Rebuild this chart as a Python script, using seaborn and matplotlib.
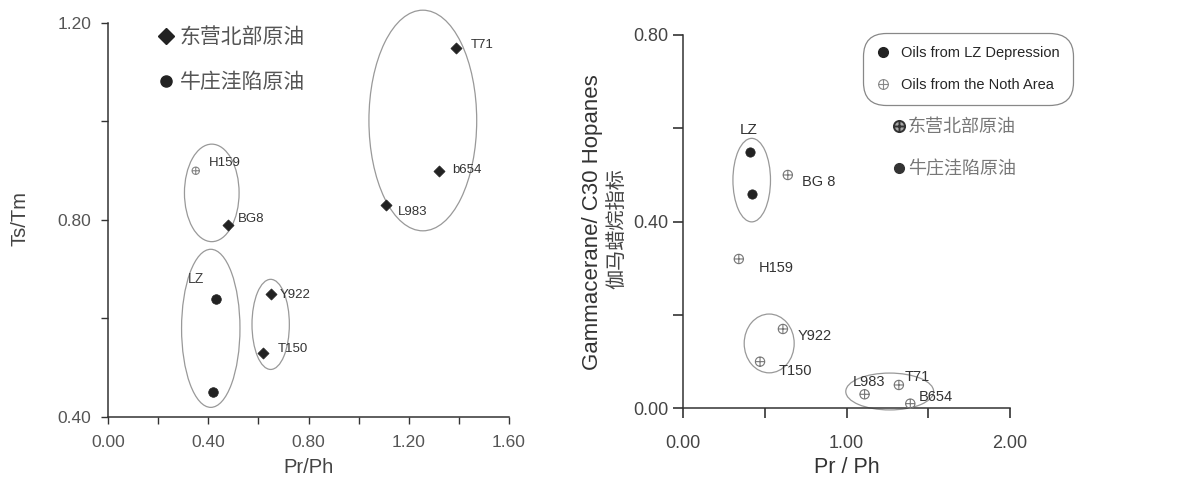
import numpy as np
import pandas as pd
import seaborn as sns
import matplotlib.pyplot as plt
from matplotlib.path import Path
from matplotlib.patches import Ellipse
from matplotlib.lines import Line2D
from matplotlib.ticker import MultipleLocator, FormatStrFormatter

# left panel: Pr/Ph vs Ts/Tm
left_wells = ['BG8', 'Y922', 'T150', 'T71', 'b654', 'L983']
left_prph = [0.48, 0.65, 0.62, 1.39, 1.32, 1.11]
left_tstm = [0.79, 0.65, 0.53, 1.15, 0.90, 0.83]
left_lz_prph = [0.43, 0.42]
left_lz_tstm = [0.64, 0.45]
left_h159_prph = [0.35]
left_h159_tstm = [0.90]

# right panel: Pr/Ph vs gammacerane index
right_lz_prph = [0.41, 0.42]
right_lz_gam = [0.55, 0.46]
right_wells = ['BG 8', 'H159', 'Y922', 'T150', 'L983', 'T71', 'B654']
right_prph = [0.64, 0.34, 0.61, 0.47, 1.11, 1.32, 1.39]
right_gam = [0.50, 0.32, 0.17, 0.10, 0.03, 0.05, 0.01]

legend_cn = ['东营北部原油', '牛庄洼陷原油']
legend_en = ['Oils from LZ Depression', 'Oils from the Noth Area']

# label offsets in pixels (text left edge / vertical centre vs point)
left_offsets = {'H159': (13, 8), 'BG8': (10, 6), 'Y922': (9, -1), 'T150': (14, 4),
                'T71': (14, 3), 'b654': (13, 1), 'L983': (12, -7)}
right_offsets = {'BG 8': (14, -7), 'H159': (20, -9), 'Y922': (15, -7), 'T150': (19, -9),
                 'L983': (-12, 12), 'T71': (6, 8), 'B654': (8, 7)}

# grouping ellipses (cx, cy, width, height) in data units
left_ellipses = [(1.256, 1.002, 0.43, 0.448), (0.414, 0.855, 0.218, 0.198),
                 (0.410, 0.580, 0.233, 0.321), (0.649, 0.588, 0.149, 0.183)]
right_ellipses = [(0.419, 0.489, 0.23, 0.179), (0.526, 0.139, 0.306, 0.126),
                  (1.264, 0.036, 0.538, 0.079)]

sns.set_style('ticks')
plt.rcParams['font.family'] = ['Liberation Sans', 'Noto Sans CJK SC']
CJK = ['Noto Sans CJK SC', 'DejaVu Sans']

# circle with a cross, like the original "⊕" symbol
oplus = Path.make_compound_path(
    Path.unit_circle(),
    Path([(-1, 0), (1, 0), (0, -1), (0, 1)],
         [Path.MOVETO, Path.LINETO, Path.MOVETO, Path.LINETO]))

fig = plt.figure(figsize=(12, 4.82), dpi=100)
ax1 = fig.add_axes([0.09, 0.1349, 0.3342, 0.8174])
ax2 = fig.add_axes([0.5694, 0.1529, 0.2722, 0.7745])

dark = '#222222'

# ---------- left ----------
df_l = pd.DataFrame({'x': left_prph, 'y': left_tstm, 'name': left_wells})
sns.scatterplot(data=df_l, x='x', y='y', marker='D', s=32, color=dark,
                edgecolor=dark, linewidth=0.5, ax=ax1, clip_on=False, zorder=3)
sns.scatterplot(x=left_lz_prph, y=left_lz_tstm, marker='o', s=48, color=dark,
                edgecolor=dark, linewidth=0.5, ax=ax1, zorder=3)
sns.scatterplot(x=left_h159_prph, y=left_h159_tstm, marker=oplus, s=28,
                facecolor='none', edgecolor='#888888', linewidth=0.8, ax=ax1, zorder=3)

for n, x, y in zip(left_wells + ['H159'], left_prph + left_h159_prph, left_tstm + left_h159_tstm):
    dx, dy = left_offsets[n]
    ax1.annotate(n, (x, y), xytext=(dx, dy), textcoords='offset pixels',
                 ha='left', va='center', fontsize=9.5, color='#333333')
ax1.text(0.32, 0.68, 'LZ', fontsize=10, color='#444444', ha='left', va='center')

for cx, cy, w, h in left_ellipses:
    ax1.add_patch(Ellipse((cx, cy), w, h, fill=False, edgecolor='#999999', lw=0.9, clip_on=False))

ax1.set_xlim(0, 1.6)
ax1.set_ylim(0.4, 1.2)
ax1.xaxis.set_major_locator(MultipleLocator(0.4))
ax1.xaxis.set_minor_locator(MultipleLocator(0.2))
ax1.yaxis.set_major_locator(MultipleLocator(0.4))
ax1.yaxis.set_minor_locator(MultipleLocator(0.2))
ax1.xaxis.set_major_formatter(FormatStrFormatter('%.2f'))
ax1.yaxis.set_major_formatter(FormatStrFormatter('%.2f'))
ax1.tick_params(which='both', direction='out', length=5, width=1, color='#333333')
ax1.tick_params(axis='x', labelsize=12.5, labelcolor='#555555', pad=8)
ax1.tick_params(axis='y', labelsize=12.5, labelcolor='#555555', pad=7)
ax1.set_xlabel('Pr/Ph', fontsize=14.5, color='#444444')
ax1.set_ylabel('Ts/Tm', fontsize=14.5, color='#444444')
ax1.xaxis.set_label_coords(0.5, -0.105)
ax1.yaxis.set_label_coords(-0.195, 0.505)

h_l = [Line2D([], [], marker='D', ls='', color=dark, markersize=8),
       Line2D([], [], marker='o', ls='', color=dark, markersize=8)]
leg_l = ax1.legend(h_l, legend_cn, loc='upper left', bbox_to_anchor=(156 / 1200, 1 - 26 / 482),
                   bbox_transform=fig.transFigure, frameon=False, borderpad=0, borderaxespad=0,
                   handlelength=1.0, handletextpad=0.15, labelspacing=1.12,
                   prop={'family': CJK, 'size': 15})
for t in leg_l.get_texts():
    t.set_color('#555555')

# ---------- right ----------
df_r = pd.DataFrame({'x': right_prph, 'y': right_gam, 'name': right_wells})
sns.scatterplot(x=right_lz_prph, y=right_lz_gam, marker='o', s=45, color=dark,
                edgecolor=dark, linewidth=0.5, ax=ax2, zorder=3)
sns.scatterplot(data=df_r, x='x', y='y', marker=oplus, s=45, facecolor='none',
                edgecolor='#777777', linewidth=0.8, ax=ax2, clip_on=False, zorder=3)

for n, x, y in zip(right_wells, right_prph, right_gam):
    dx, dy = right_offsets[n]
    ax2.annotate(n, (x, y), xytext=(dx, dy), textcoords='offset pixels',
                 ha='left', va='center', fontsize=10.5, color='#333333')
ax2.text(0.40, 0.596, 'LZ', fontsize=11, color='#333333', ha='center', va='center')

for cx, cy, w, h in right_ellipses:
    ax2.add_patch(Ellipse((cx, cy), w, h, fill=False, edgecolor='#999999', lw=0.9, clip_on=False))

ax2.set_xlim(0, 2.0)
ax2.set_ylim(0, 0.8)
ax2.xaxis.set_major_locator(MultipleLocator(1.0))
ax2.xaxis.set_minor_locator(MultipleLocator(0.5))
ax2.yaxis.set_major_locator(MultipleLocator(0.4))
ax2.yaxis.set_minor_locator(MultipleLocator(0.2))
ax2.xaxis.set_major_formatter(FormatStrFormatter('%.2f'))
ax2.yaxis.set_major_formatter(FormatStrFormatter('%.2f'))
ax2.tick_params(which='both', direction='out', length=7, width=1.2, color='#333333')
ax2.tick_params(axis='x', labelsize=13, labelcolor='#444444', pad=12)
ax2.tick_params(axis='y', labelsize=13, labelcolor='#444444', pad=4)
ax2.set_xlabel('Pr / Ph', fontsize=15.5, color='#333333')
ax2.set_ylabel('Gammacerane/ C30 Hopanes', fontsize=16, color='#333333')
ax2.xaxis.set_label_coords(0.5, -0.13)
ax2.yaxis.set_label_coords(-0.245, 0.5)
ax2.text(-0.204, 0.48, '伽马蜡烷指标', transform=ax2.transAxes, rotation=90,
         ha='center', va='center', fontsize=14.5, color='#444444', family=CJK)

h_en = [Line2D([], [], marker='o', ls='', color=dark, markersize=7),
        Line2D([], [], marker=oplus, ls='', markerfacecolor='none',
               markeredgecolor='#888888', markersize=7, markeredgewidth=0.8)]
leg_en = ax2.legend(h_en, legend_en, loc='upper left', bbox_to_anchor=(863 / 1200, 1 - 33 / 482),
                    bbox_transform=fig.transFigure, frameon=True, fancybox=True,
                    borderpad=0.9, borderaxespad=0, handlelength=1.0, handletextpad=0.7,
                    labelspacing=1.25, fontsize=10.5)
leg_en.get_frame().set_boxstyle('round', pad=0, rounding_size=1.6)
leg_en.get_frame().set_edgecolor('#888888')
leg_en.get_frame().set_linewidth(0.9)
leg_en.get_frame().set_alpha(1)
ax2.add_artist(leg_en)

h_cn = [Line2D([], [], marker=oplus, ls='', markerfacecolor='#aaaaaa',
               markeredgecolor='#333333', markersize=8, markeredgewidth=1.4),
        Line2D([], [], marker='o', ls='', color='#333333', markersize=7)]
leg_cn = ax2.legend(h_cn, legend_cn, loc='upper left', bbox_to_anchor=(890 / 1200, 1 - 118 / 482),
                    bbox_transform=fig.transFigure, frameon=False, borderpad=0, borderaxespad=0,
                    handlelength=1.0, handletextpad=0.0, labelspacing=1.35,
                    prop={'family': CJK, 'size': 13})
for t in leg_cn.get_texts():
    t.set_color('#777777')

sns.despine(ax=ax1)
sns.despine(ax=ax2)
for ax in (ax1, ax2):
    for sp in ('left', 'bottom'):
        ax.spines[sp].set_color('#333333')
        ax.spines[sp].set_linewidth(1.1)

fig.savefig('out.png', dpi=100, facecolor='white')
